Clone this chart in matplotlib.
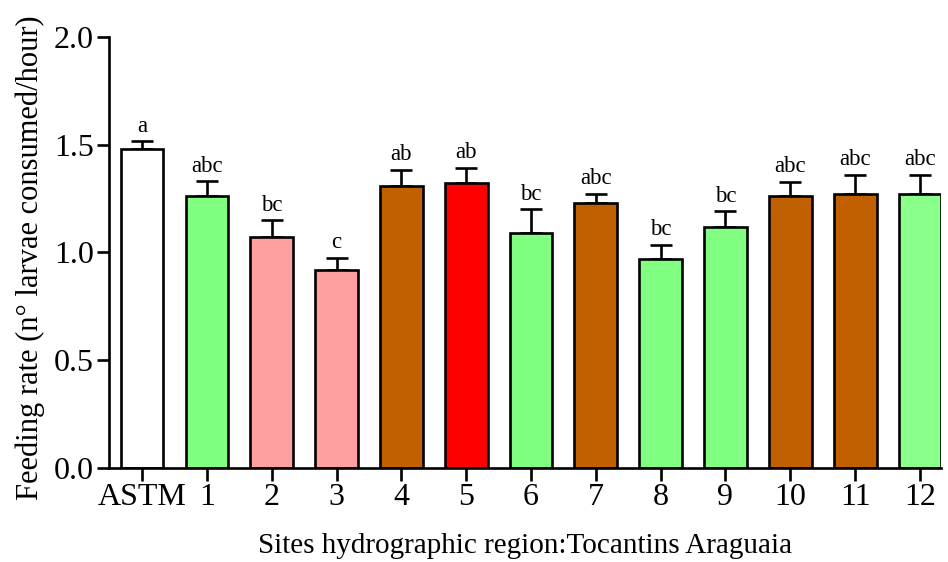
import matplotlib
matplotlib.use("Agg")
import matplotlib.pyplot as plt
import numpy as np

categories = ["ASTM", "1", "2", "3", "4", "5", "6", "7", "8", "9", "10", "11", "12"]
means = [1.48, 1.26, 1.07, 0.92, 1.31, 1.32, 1.09, 1.23, 0.97, 1.12, 1.26, 1.27, 1.27]
errors = [0.035, 0.07, 0.078, 0.056, 0.074, 0.074, 0.11, 0.04, 0.064, 0.07, 0.067, 0.09, 0.09]
letters = ["a", "abc", "bc", "c", "ab", "ab", "bc", "abc", "bc", "bc", "abc", "abc", "abc"]
colors = ["#FFFFFF", "#80FF80", "#FFA0A0", "#FFA0A0", "#C06000", "#FF0000", "#80FF80",
          "#C06000", "#80FF80", "#80FF80", "#C06000", "#C06000", "#8AFF8A"]

plt.rcParams['font.family'] = ['Liberation Serif', 'DejaVu Serif']

fig = plt.figure(figsize=(9.48, 5.62), dpi=100)
ax = fig.add_axes([0.115, 0.168, 0.878, 0.766])

x = np.arange(len(categories))
lw = 1.9
ax.bar(x, means, width=0.66, color=colors, edgecolor="black", linewidth=lw, zorder=2)
ax.errorbar(x, means, yerr=[np.zeros(len(means)), errors], fmt="none", ecolor="black",
            elinewidth=lw, capsize=8, capthick=lw, zorder=1)

for xi, m, e, t in zip(x, means, errors, letters):
    ax.annotate(t, (xi, m + e), xytext=(0, 7), textcoords="offset points",
                ha="center", va="baseline", fontsize=16.5)

ax.set_xlim(-0.51, 12.33)
ax.set_ylim(0, 2.0)
ax.set_yticks([0, 0.5, 1.0, 1.5, 2.0])
ax.set_yticklabels(["0.0", "0.5", "1.0", "1.5", "2.0"])
ax.set_xticks(x)
ax.set_xticklabels(categories)
ax.tick_params(axis="both", labelsize=23, width=lw, length=9, pad=2, direction="out")
for s in ["top", "right"]:
    ax.spines[s].set_visible(False)
for s in ["left", "bottom"]:
    ax.spines[s].set_linewidth(lw)

ax.set_ylabel("Feeding rate (n° larvae consumed/hour)", fontsize=22, labelpad=2)
ax.yaxis.set_label_coords(-0.077, 0.487)
ax.set_xlabel("Sites hydrographic region:Tocantins Araguaia", fontsize=21, labelpad=15)

fig.savefig("out.png", dpi=100)
